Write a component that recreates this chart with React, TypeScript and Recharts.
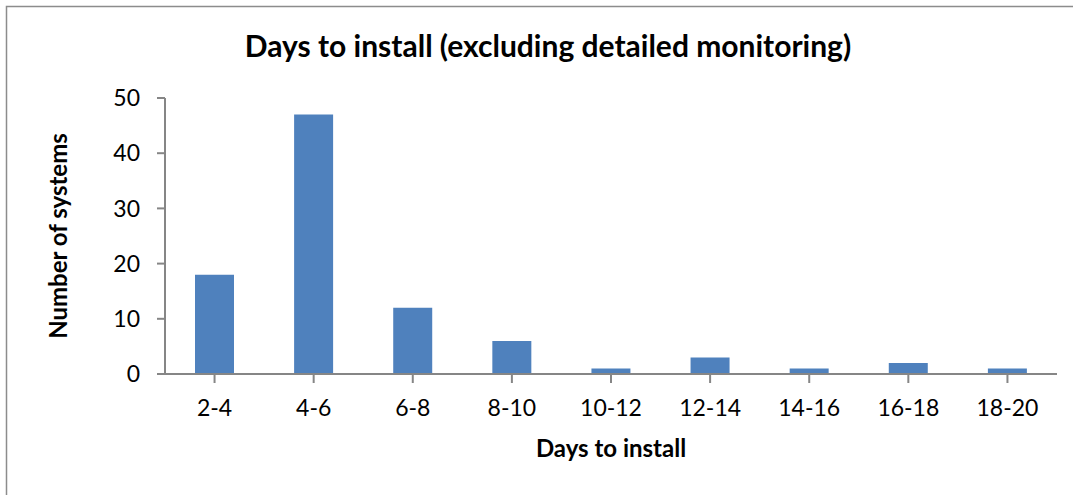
import { Bar, BarChart, Label, XAxis, YAxis } from 'recharts'

const categories = ['2-4', '4-6', '6-8', '8-10', '10-12', '12-14', '14-16', '16-18', '18-20']
const systems = [18, 47, 12, 6, 1, 3, 1, 2, 1]
const yTicks = [0, 10, 20, 30, 40, 50]

const data = categories.map((range, i) => ({ range, systems: systems[i] }))

const FONT = 'Lato, "Open Sans", sans-serif'
const AXIS = '#868686'
const BAR = '#4F81BD'

function YTitle(props: any) {
  const vb = props.viewBox
  const cy = vb.y + vb.height / 2
  return (
    <text
      x={57}
      y={cy}
      transform={`rotate(-90, 57, ${cy})`}
      textAnchor="middle"
      dominantBaseline="central"
      fontFamily={FONT}
      fontWeight={700}
      fontSize={24}
      fill="#000"
    >
      Number of systems
    </text>
  )
}

export default function App() {
  return (
    <div style={{ position: 'absolute', left: 0, top: 0, width: 1073, height: 495, background: '#fff' }}>
      <BarChart
        width={1073}
        height={495}
        data={data}
        margin={{ top: 98, right: 16, bottom: 0, left: 0 }}
        barCategoryGap="30%"
      >
        <rect x={6.5} y={6.5} width={1200} height={600} fill="none" stroke="#8c8c8c" strokeWidth={1.5} />
        <text
          x={548}
          y={57}
          textAnchor="middle"
          fontFamily={FONT}
          fontWeight={700}
          fontSize={30}
          fill="#000"
        >
          Days to install (excluding detailed monitoring)
        </text>
        <XAxis
          dataKey="range"
          height={121}
          interval={0}
          stroke={AXIS}
          strokeWidth={2}
          tickSize={9}
          tickMargin={17}
          tick={{ fill: '#000', fontSize: 23, fontFamily: FONT }}
        >
          <Label value="Days to install" position="insideTop" offset={66} fill="#000" fontFamily={FONT} fontWeight={700} fontSize={24} />
        </XAxis>
        <YAxis
          width={165}
          domain={[0, 50]}
          ticks={yTicks}
          interval={0}
          stroke={AXIS}
          strokeWidth={2}
          tickSize={8}
          tickMargin={17}
          tick={{ fill: '#000', fontSize: 23, fontFamily: FONT }}
        >
          <Label content={YTitle} />
        </YAxis>
        <Bar dataKey="systems" fill={BAR} barSize={39} isAnimationActive={false} />
      </BarChart>
    </div>
  )
}
